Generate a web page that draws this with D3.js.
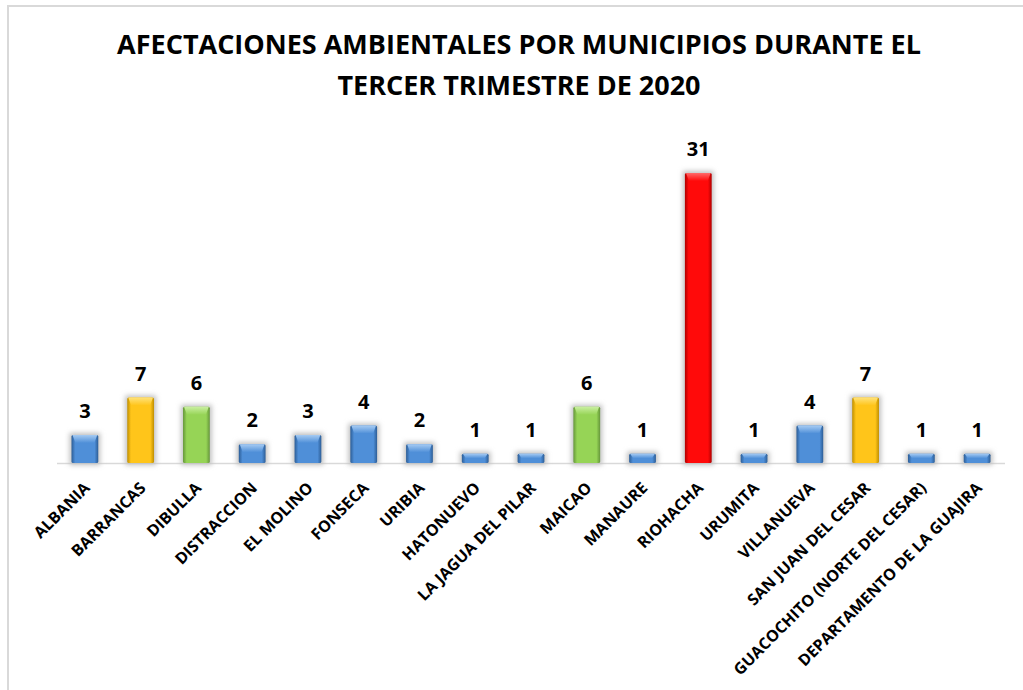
<!DOCTYPE html>
<html>
<head>
<meta charset="utf-8">
<script src="https://cdn.jsdelivr.net/npm/d3@7"></script>
<style>
  body { margin: 0; background: #fff; }
  svg { display: block; }
  text { font-family: "Open Sans", Lato, sans-serif; font-weight: bold; fill: #000; }
</style>
</head>
<body>
<svg width="1023" height="690"></svg>
<script>
// data
var municipios = ['ALBANIA', 'BARRANCAS', 'DIBULLA', 'DISTRACCION', 'EL MOLINO', 'FONSECA',
    'URIBIA', 'HATONUEVO', 'LA JAGUA DEL PILAR', 'MAICAO', 'MANAURE', 'RIOHACHA',
    'URUMITA', 'VILLANUEVA', 'SAN JUAN DEL CESAR', 'GUACOCHITO (NORTE DEL CESAR)',
    'DEPARTAMENTO DE LA GUAJIRA'];
var afectaciones = [3, 7, 6, 2, 3, 4, 2, 1, 1, 6, 1, 31, 1, 4, 7, 1, 1];
var barColors = ['blue', 'yellow', 'green', 'blue', 'blue', 'blue', 'blue', 'blue', 'blue',
    'green', 'blue', 'red', 'blue', 'blue', 'yellow', 'blue', 'blue'];
var titleLines = ['AFECTACIONES AMBIENTALES POR MUNICIPIOS DURANTE EL', 'TERCER TRIMESTRE DE 2020'];

// colour sets for the 3d-ish bars: edge, middle, cap
var palette = {
    blue:   { edge: '#2c5d96', mid: '#4f8fd8', cap: '#a6cbf3' },
    yellow: { edge: '#c08f00', mid: '#ffc51a', cap: '#ffe27a' },
    green:  { edge: '#65963a', mid: '#96d456', cap: '#c9efa0' },
    red:    { edge: '#b00000', mid: '#ff0a0a', cap: '#ff6a6a' }
};

var svg = d3.select('svg');
var baseY = 463;

var x = d3.scaleBand().domain(municipios).range([57, 1005]).paddingInner(0.52).paddingOuter(0.26);
var y = d3.scaleLinear().domain([0, 31]).range([baseY, 173]);

var defs = svg.append('defs');

Object.keys(palette).forEach(function(k) {
    var p = palette[k];
    var g = defs.append('linearGradient').attr('id', 'grad-' + k)
        .attr('x1', '0%').attr('x2', '100%').attr('y1', '0%').attr('y2', '0%');
    g.append('stop').attr('offset', '0%').attr('stop-color', p.edge);
    g.append('stop').attr('offset', '14%').attr('stop-color', p.mid);
    g.append('stop').attr('offset', '86%').attr('stop-color', p.mid);
    g.append('stop').attr('offset', '100%').attr('stop-color', p.edge);

    var c = defs.append('linearGradient').attr('id', 'cap-' + k)
        .attr('x1', '0%').attr('x2', '0%').attr('y1', '0%').attr('y2', '100%');
    c.append('stop').attr('offset', '0%').attr('stop-color', p.cap);
    c.append('stop').attr('offset', '100%').attr('stop-color', p.mid);
});

defs.append('filter').attr('id', 'shadow').attr('x', '-50%').attr('y', '-50%')
    .attr('width', '200%').attr('height', '200%')
    .append('feGaussianBlur').attr('stdDeviation', 2.5);

// frame lines
svg.append('line').attr('x1', 8).attr('x2', 1023).attr('y1', 6).attr('y2', 6)
    .attr('stroke', '#d9d9d9').attr('stroke-width', 2);
svg.append('line').attr('x1', 8).attr('x2', 8).attr('y1', 5).attr('y2', 690)
    .attr('stroke', '#d9d9d9').attr('stroke-width', 2);

// title
svg.selectAll('.title').data(titleLines).enter().append('text')
    .attr('class', 'title')
    .attr('x', 519)
    .attr('y', function(d, i) { return 54 + i * 41; })
    .attr('text-anchor', 'middle')
    .style('font-size', '27px')
    .text(function(d) { return d; });

// axis line
svg.append('line').attr('x1', 57).attr('x2', 1005).attr('y1', baseY + 0.5).attr('y2', baseY + 0.5)
    .attr('stroke', '#d9d9d9').attr('stroke-width', 1.5);

var bw = x.bandwidth();

var bars = svg.selectAll('.bar').data(municipios).enter().append('g')
    .attr('class', 'bar')
    .attr('transform', function(d) { return 'translate(' + x(d) + ',0)'; });

// soft shadow behind each bar
bars.append('rect')
    .attr('x', -2)
    .attr('y', function(d, i) { return y(afectaciones[i]) - 2; })
    .attr('width', bw + 4)
    .attr('height', function(d, i) { return baseY - y(afectaciones[i]) + 4; })
    .attr('fill', '#bfbfbf')
    .attr('filter', 'url(#shadow)');

bars.append('rect')
    .attr('y', function(d, i) { return y(afectaciones[i]); })
    .attr('width', bw)
    .attr('height', function(d, i) { return baseY - y(afectaciones[i]); })
    .attr('rx', 1.5)
    .attr('fill', function(d, i) { return 'url(#grad-' + barColors[i] + ')'; });

// bevelled top cap
bars.append('path')
    .attr('d', function(d, i) {
        var t = y(afectaciones[i]);
        var h = Math.min(8, (baseY - t) / 2);
        return 'M1,' + t + ' L' + (bw - 1) + ',' + t + ' L' + (bw - 4) + ',' + (t + h) +
            ' L4,' + (t + h) + ' Z';
    })
    .attr('fill', function(d, i) { return 'url(#cap-' + barColors[i] + ')'; });

// value labels
bars.append('text')
    .attr('x', bw / 2)
    .attr('y', function(d, i) { return y(afectaciones[i]) - 17; })
    .attr('text-anchor', 'middle')
    .style('font-size', '20px')
    .text(function(d, i) { return afectaciones[i]; });

// category labels
svg.selectAll('.xlabel').data(municipios).enter().append('text')
    .attr('class', 'xlabel')
    .attr('text-anchor', 'end')
    .style('font-size', '16px')
    .attr('transform', function(d) {
        return 'translate(' + (x(d) + bw / 2 + 6) + ',' + (baseY + 26) + ') rotate(-45)';
    })
    .text(function(d) { return d; });
</script>
</body>
</html>
